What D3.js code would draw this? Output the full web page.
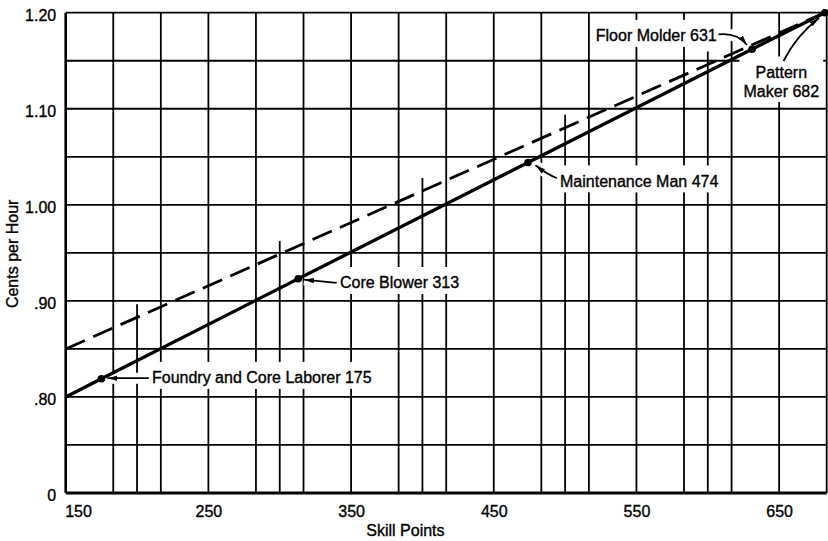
<!DOCTYPE html>
<html>
<head>
<meta charset="utf-8">
<script src="https://cdn.jsdelivr.net/npm/d3@7"></script>
<style>
  html, body { margin: 0; padding: 0; background: #fff; }
  svg { display: block; }
  text { font-family: "Liberation Sans", Arial, sans-serif; font-size: 16px; fill: #000; stroke: #000; stroke-width: 0.35px; }
</style>
</head>
<body>
<svg id="chart" width="828" height="541"></svg>
<script>
// ---------- data ----------
const jobNames = [
  ["Foundry and Core Laborer 175"],
  ["Core Blower 313"],
  ["Maintenance Man 474"],
  ["Floor Molder 631"],
  ["Pattern", "Maker 682"]
];
const skillPoints = [175, 313, 474, 631, 682];
const centsPerHour = [0.819, 0.923, 1.044, 1.162, 1.20];

const solidLineX = [150, 175, 313, 474, 631, 682];
const solidLineY = [0.80, 0.819, 0.923, 1.044, 1.162, 1.20];
const dashedLineX = [150, 682];
const dashedLineY = [0.85, 1.20];

const gridX = [150, 183.33, 216.67, 250, 283.33, 316.67, 350, 383.33, 416.67,
               450, 483.33, 516.67, 550, 583.33, 616.67, 650, 683.33];
const partialGridX = [200, 300, 400, 500, 600];
const gridY = [0.70, 0.75, 0.80, 0.85, 0.90, 0.95, 1.00, 1.05, 1.10, 1.15, 1.20];

const xTicks = [150, 250, 350, 450, 550, 650];
const xTickLabels = ["150", "250", "350", "450", "550", "650"];
const yTicks = [0.70, 0.80, 0.90, 1.00, 1.10, 1.20];
const yTickLabels = ["0", ".80", ".90", "1.00", "1.10", "1.20"];

const xTitle = "Skill Points";
const yTitle = "Cents per Hour";

// ---------- layout (pixel offsets of annotations relative to their point) ----------
const annotLayout = [
  { anchor: "start",  dx: 50.6,  dy: 4.7,  lead: 0,
    arrow: [[47.5, -0.5], [27, -0.5], [6, -0.5]] },
  { anchor: "start",  dx: 41.7,  dy: 9.7,  lead: 0,
    arrow: [[38.4, 4.1], [22, 2.5], [5.7, 0.9]] },
  { anchor: "start",  dx: 32,    dy: 24.4, lead: 0,
    arrow: [[29, 15.7], [19, 11.7], [7.5, 2.7]] },
  { anchor: "end",    dx: -35.3, dy: -7.8, lead: 0,
    arrow: [[-33.5, -14.8], [-15, -16.8], [-5, -4.3]] },
  { anchor: "middle", dx: -43.5, dy: 65.3, lead: 18.5,
    arrow: [[-41.3, 48.3], [-28.8, 23.3], [-5.8, 5.3]] }
];

// ---------- scales ----------
const svg = d3.select("#chart");
const x = d3.scaleLinear().domain([150, 683.33]).range([65.7, 826.7]);
const y = d3.scaleLinear().domain([0.70, 1.20]).range([493, 12.7]);
const dashedAt = d3.scaleLinear().domain(dashedLineX).range(dashedLineY);

svg.append("rect").attr("width", 828).attr("height", 541).attr("fill", "#fff");

const defs = svg.append("defs");
defs.append("marker")
  .attr("id", "ah").attr("viewBox", "0 0 10 6")
  .attr("refX", 10).attr("refY", 3)
  .attr("markerWidth", 10).attr("markerHeight", 6)
  .attr("markerUnits", "userSpaceOnUse").attr("orient", "auto")
  .append("path").attr("d", "M0,0.4 L10,3 L0,5.6 Z").attr("fill", "#000");

const gridG = svg.append("g");
const maskG = svg.append("g");
const lineG = svg.append("g");
const dotG = svg.append("g");
const arrowG = svg.append("g");
const textG = svg.append("g");

// ---------- grid ----------
gridG.selectAll("line.h").data(gridY).join("line")
  .attr("x1", x(150)).attr("x2", x(683.33))
  .attr("y1", d => y(d)).attr("y2", d => y(d))
  .attr("stroke", "#000").attr("stroke-width", (d, i) => i === 0 ? 3 : 1.8);

gridG.selectAll("line.v").data(gridX).join("line")
  .attr("x1", d => x(d)).attr("x2", d => x(d))
  .attr("y1", y(0.70)).attr("y2", y(1.20))
  .attr("stroke", "#000").attr("stroke-width", (d, i) => i === 0 ? 2.6 : 1.8);

gridG.selectAll("line.p").data(partialGridX).join("line")
  .attr("x1", d => x(d)).attr("x2", d => x(d))
  .attr("y1", y(0.70)).attr("y2", d => y(dashedAt(d)) - 13)
  .attr("stroke", "#000").attr("stroke-width", 1.8);

// ---------- axis labels ----------
const axisX = d3.axisBottom(x).tickValues(xTicks).tickSize(0)
  .tickFormat((d, i) => xTickLabels[i]);
const gx = svg.append("g").attr("transform", `translate(0,${y(0.70)})`).call(axisX);
gx.select(".domain").remove();
gx.selectAll("text").attr("dy", null).attr("y", 23.5)
  .style("font-family", '"Liberation Sans", Arial, sans-serif').style("font-size", "16px")
  .attr("text-anchor", (d, i) => i === 0 ? "start" : "middle")
  .attr("x", (d, i) => i === 0 ? -1 : 0);

const axisY = d3.axisLeft(y).tickValues(yTicks).tickSize(0)
  .tickFormat((d, i) => yTickLabels[i]);
const gy = svg.append("g").attr("transform", `translate(${x(150)},0)`).call(axisY);
gy.select(".domain").remove();
gy.selectAll("text").attr("dy", null).attr("y", 7.5).attr("x", -9.5)
  .style("font-family", '"Liberation Sans", Arial, sans-serif').style("font-size", "16px");

svg.append("text").attr("x", (x(350) + x(450)) / 2 - 17).attr("y", 535.5)
  .attr("text-anchor", "middle").text(xTitle);
svg.append("text").attr("transform", `translate(18,${(y(1.0) + y(0.90)) / 2 + 1}) rotate(-90)`)
  .attr("text-anchor", "middle").text(yTitle);

// ---------- data lines ----------
const solidPts = solidLineX.map((v, i) => [v, solidLineY[i]]);
const dashedPts = dashedLineX.map((v, i) => [v, dashedLineY[i]]);
const lineGen = d3.line().x(d => x(d[0])).y(d => y(d[1]));

lineG.append("path").datum(dashedPts).attr("d", lineGen)
  .attr("fill", "none").attr("stroke", "#000").attr("stroke-width", 2.8)
  .attr("stroke-dasharray", "21,9");
lineG.append("path").datum(solidPts).attr("d", lineGen)
  .attr("fill", "none").attr("stroke", "#000").attr("stroke-width", 3.3);

// ---------- points ----------
const pts = skillPoints.map((v, i) => ({ sx: v, cy: centsPerHour[i], name: jobNames[i], lay: annotLayout[i] }));
dotG.selectAll("circle").data(pts).join("circle")
  .attr("cx", d => x(d.sx)).attr("cy", d => y(d.cy)).attr("r", 3.8).attr("fill", "#000");

// ---------- annotations ----------
const arrowPath = d => {
  const px = x(d.sx), py = y(d.cy), a = d.lay.arrow;
  return `M${px + a[0][0]},${py + a[0][1]} Q${px + a[1][0]},${py + a[1][1]} ${px + a[2][0]},${py + a[2][1]}`;
};
maskG.selectAll("path").data(pts).join("path")
  .attr("d", arrowPath).attr("fill", "none").attr("stroke", "#fff").attr("stroke-width", 11);
arrowG.selectAll("path").data(pts).join("path")
  .attr("d", arrowPath).attr("fill", "none").attr("stroke", "#000").attr("stroke-width", 1.7)
  .attr("marker-end", "url(#ah)");

pts.forEach(d => {
  const t = textG.append("text")
    .attr("x", x(d.sx) + d.lay.dx).attr("y", y(d.cy) + d.lay.dy)
    .attr("text-anchor", d.lay.anchor);
  d.name.forEach((s, k) => {
    t.append("tspan").attr("x", x(d.sx) + d.lay.dx).attr("dy", k === 0 ? 0 : d.lay.lead).text(s);
  });
  const b = t.node().getBBox();
  maskG.append("rect")
    .attr("x", b.x - 4).attr("y", b.y - 7.5)
    .attr("width", b.width + 8).attr("height", b.height + 10)
    .attr("fill", "#fff");
});
</script>
</body>
</html>
